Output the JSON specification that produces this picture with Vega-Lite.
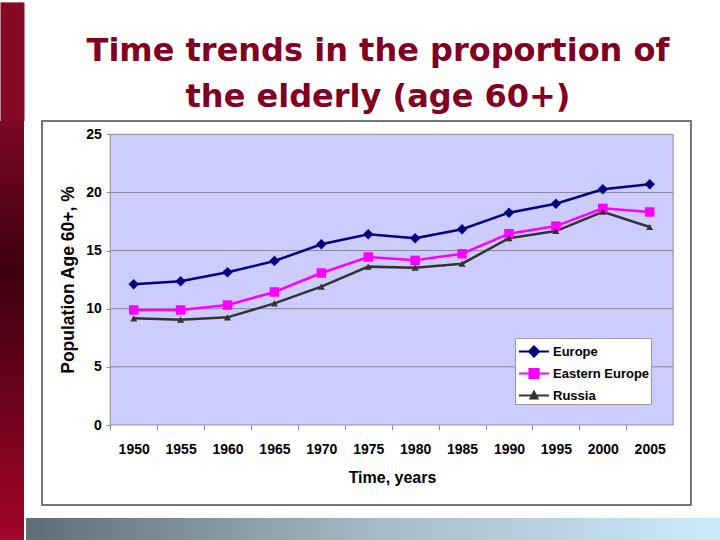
{
  "$schema": "https://vega.github.io/schema/vega-lite/v6.json",
  "padding": 0,
  "background": "white",
  "config": {"view": {"stroke": null}, "font": "Liberation Sans"},
  "datasets": {
    "pop": [
      {"year": 1950, "series": "Europe", "value": 12.1},
      {"year": 1955, "series": "Europe", "value": 12.36},
      {"year": 1960, "series": "Europe", "value": 13.13},
      {"year": 1965, "series": "Europe", "value": 14.1},
      {"year": 1970, "series": "Europe", "value": 15.54},
      {"year": 1975, "series": "Europe", "value": 16.4},
      {"year": 1980, "series": "Europe", "value": 16.06},
      {"year": 1985, "series": "Europe", "value": 16.83},
      {"year": 1990, "series": "Europe", "value": 18.26},
      {"year": 1995, "series": "Europe", "value": 19.03},
      {"year": 2000, "series": "Europe", "value": 20.27},
      {"year": 2005, "series": "Europe", "value": 20.7},
      {"year": 1950, "series": "Eastern Europe", "value": 9.89},
      {"year": 1955, "series": "Eastern Europe", "value": 9.89},
      {"year": 1960, "series": "Eastern Europe", "value": 10.32},
      {"year": 1965, "series": "Eastern Europe", "value": 11.44},
      {"year": 1970, "series": "Eastern Europe", "value": 13.07},
      {"year": 1975, "series": "Eastern Europe", "value": 14.45},
      {"year": 1980, "series": "Eastern Europe", "value": 14.16},
      {"year": 1985, "series": "Eastern Europe", "value": 14.73},
      {"year": 1990, "series": "Eastern Europe", "value": 16.45},
      {"year": 1995, "series": "Eastern Europe", "value": 17.11},
      {"year": 2000, "series": "Eastern Europe", "value": 18.63},
      {"year": 2005, "series": "Eastern Europe", "value": 18.32},
      {"year": 1950, "series": "Russia", "value": 9.17},
      {"year": 1955, "series": "Russia", "value": 9.06},
      {"year": 1960, "series": "Russia", "value": 9.26},
      {"year": 1965, "series": "Russia", "value": 10.46},
      {"year": 1970, "series": "Russia", "value": 11.9},
      {"year": 1975, "series": "Russia", "value": 13.62},
      {"year": 1980, "series": "Russia", "value": 13.53},
      {"year": 1985, "series": "Russia", "value": 13.87},
      {"year": 1990, "series": "Russia", "value": 16.06},
      {"year": 1995, "series": "Russia", "value": 16.68},
      {"year": 2000, "series": "Russia", "value": 18.34},
      {"year": 2005, "series": "Russia", "value": 17.03}
    ]
  },
  "spacing": 0,
  "hconcat": [
    {
      "width": 24,
      "height": 420,
      "data": {"values": [{}]},
      "layer": [
        {
          "mark": {
            "type": "rect",
            "fill": {
              "gradient": "linear", "x1": 0, "y1": 0, "x2": 0, "y2": 1,
              "stops": [
                {"offset": 0, "color": "#7c0824"},
                {"offset": 0.357, "color": "#3c0010"},
                {"offset": 1, "color": "#a30628"}
              ]
            }
          },
          "encoding": {}
        },
        {
          "mark": {"type": "point", "opacity": 0},
          "encoding": {
            "x": {
              "datum": 12,
              "type": "quantitative",
              "scale": {"domain": [0, 24], "nice": false, "zero": false},
              "axis": {
                "orient": "top",
                "values": [1.5, 3.41, 5.32, 7.23, 9.14, 11.05, 12.95, 14.86, 16.77, 18.68, 20.59, 22.5],
                "translate": 0,
                "tickSize": 118.5,
                "tickWidth": 3,
                "tickColor": "#860926",
                "tickCap": "butt",
                "labels": false,
                "domain": false,
                "grid": false,
                "title": null
              }
            }
          }
        }
      ]
    },
    {
      "spacing": 12,
      "vconcat": [
        {
          "width": 649,
          "height": 384,
          "view": {"fill": "white", "stroke": "#4a4a4a", "strokeWidth": 1.5},
          "title": {
            "text": " ",
            "fontSize": 8,
            "subtitle": ["Time trends in the proportion of", "the elderly (age 60+)"],
            "subtitleFont": "DejaVu Sans",
            "subtitleFontSize": 32,
            "subtitleFontWeight": "bold",
            "subtitleColor": "#7f0022",
            "subtitleLineHeight": 46,
            "subtitlePadding": 26.5,
            "anchor": "middle",
            "frame": "group",
            "offset": 8.5,
            "dx": 11.5
          },
          "data": {"name": "pop"},
          "layer": [
            {
              "data": {"values": [{}]},
              "mark": {"type": "rect", "fill": "#ccccff", "stroke": "#8c8c8c", "strokeWidth": 1},
              "encoding": {
                "x": {"datum": 1947.5, "type": "quantitative"},
                "x2": {"datum": 2007.5},
                "y": {"datum": 0, "type": "quantitative"},
                "y2": {"datum": 25}
              }
            },
            {
              "data": {"values": [{}]},
              "mark": {"type": "rule", "color": "#8a8a9c", "strokeWidth": 1},
              "encoding": {"x": {"datum": 1947.5, "type": "quantitative"}, "x2": {"datum": 2007.5}, "y": {"datum": 5, "type": "quantitative"}}
            },
            {
              "data": {"values": [{}]},
              "mark": {"type": "rule", "color": "#8a8a9c", "strokeWidth": 1},
              "encoding": {"x": {"datum": 1947.5, "type": "quantitative"}, "x2": {"datum": 2007.5}, "y": {"datum": 10, "type": "quantitative"}}
            },
            {
              "data": {"values": [{}]},
              "mark": {"type": "rule", "color": "#8a8a9c", "strokeWidth": 1},
              "encoding": {"x": {"datum": 1947.5, "type": "quantitative"}, "x2": {"datum": 2007.5}, "y": {"datum": 15, "type": "quantitative"}}
            },
            {
              "data": {"values": [{}]},
              "mark": {"type": "rule", "color": "#8a8a9c", "strokeWidth": 1},
              "encoding": {"x": {"datum": 1947.5, "type": "quantitative"}, "x2": {"datum": 2007.5}, "y": {"datum": 20, "type": "quantitative"}}
            },
            {
              "mark": {"type": "line", "strokeWidth": 2.5},
              "encoding": {
                "x": {
                  "field": "year",
                  "type": "quantitative",
                  "scale": {"domain": [1940.226, 2009.402], "nice": false, "zero": false},
                  "axis": {
                    "values": [1950, 1955, 1960, 1965, 1970, 1975, 1980, 1985, 1990, 1995, 2000, 2005],
                    "format": "d",
                    "title": "Time, years",
                    "offset": -80,
                    "domain": false,
                    "grid": false,
                    "ticks": true,
                    "tickSize": 5,
                    "tickColor": "#8c8c8c",
                    "tickOffset": -23.45,
                    "labelOffset": 23.45,
                    "labelPadding": 12,
                    "labelFont": "Liberation Sans",
                    "labelFontWeight": "bold",
                    "labelFontSize": 14,
                    "labelColor": "#000000",
                    "labelFlush": false,
                    "labelOverlap": false,
                    "titleFont": "Liberation Sans",
                    "titleFontSize": 16,
                    "titleFontWeight": "bold",
                    "titleColor": "#000000",
                    "titleX": 350,
                    "titleY": 57,
                    "titleAlign": "center",
                    "titleBaseline": "alphabetic",
                    "zindex": 1
                  }
                },
                "y": {
                  "field": "value",
                  "type": "quantitative",
                  "scale": {"domain": [-6.88, 26.144], "nice": false, "zero": false},
                  "axis": {
                    "values": [0, 5, 10, 15, 20, 25],
                    "title": "Population Age 60+, %",
                    "offset": -68.25,
                    "domain": false,
                    "grid": false,
                    "tickSize": 4,
                    "tickColor": "#8c8c8c",
                    "labelPadding": 5,
                    "labelFont": "Liberation Sans",
                    "labelFontWeight": "bold",
                    "labelFontSize": 14,
                    "labelColor": "#000000",
                    "labelFlush": false,
                    "titleFont": "Liberation Sans",
                    "titleFontSize": 17.5,
                    "titleFontWeight": "bold",
                    "titleColor": "#000000",
                    "titleX": -37,
                    "titleY": 158.5,
                    "titleAngle": -90,
                    "titleAlign": "center",
                    "titleBaseline": "alphabetic",
                    "zindex": 1
                  }
                },
                "color": {
                  "field": "series",
                  "type": "nominal",
                  "scale": {"domain": ["Europe", "Eastern Europe", "Russia"], "range": ["#000080", "#ff00ff", "#333333"]},
                  "legend": {
                    "orient": "none",
                    "legendX": 515,
                    "legendY": 217,
                    "title": null,
                    "padding": 1,
                    "fillColor": "white",
                    "strokeColor": "#999999",
                    "symbolSize": 529,
                    "symbolStrokeWidth": 2,
                    "labelOffset": 12,
                    "labelFont": "Liberation Sans",
                    "labelFontWeight": "bold",
                    "labelFontSize": 13,
                    "labelColor": "#000000",
                    "labelLimit": 200,
                    "rowPadding": 0,
                    "encode": {
                      "symbols": {
                        "update": {
                          "shape": {"signal": "datum.value === 'Europe' ? 'M-0.83,0H1.78M0.478,-0.435L0.913,0L0.478,0.435L0.043,0Z' : datum.value === 'Eastern Europe' ? 'M-0.83,0H1.78M0.078,-0.4H0.878V0.4H0.078Z' : 'M-0.83,0H1.78M0.478,-0.33L0.791,0.25H0.165Z'"},
                          "fill": {"signal": "datum.value === 'Europe' ? '#000080' : datum.value === 'Eastern Europe' ? '#ff00ff' : '#333333'"},
                          "stroke": {"signal": "datum.value === 'Europe' ? '#000080' : datum.value === 'Eastern Europe' ? '#ff00ff' : '#333333'"},
                          "opacity": {"value": 1}
                        }
                      }
                    }
                  }
                }
              }
            },
            {
              "transform": [{"filter": "datum.series === 'Europe'"}],
              "mark": {"type": "point", "shape": "diamond", "size": 110, "filled": true, "color": "#000080", "opacity": 1},
              "encoding": {"x": {"field": "year", "type": "quantitative"}, "y": {"field": "value", "type": "quantitative"}}
            },
            {
              "transform": [{"filter": "datum.series === 'Eastern Europe'"}],
              "mark": {"type": "point", "shape": "square", "size": 90, "filled": true, "color": "#ff00ff", "opacity": 1},
              "encoding": {"x": {"field": "year", "type": "quantitative"}, "y": {"field": "value", "type": "quantitative"}}
            },
            {
              "transform": [{"filter": "datum.series === 'Russia'"}],
              "mark": {"type": "point", "shape": "triangle-up", "size": 50, "filled": true, "color": "#333333", "opacity": 1},
              "encoding": {"x": {"field": "year", "type": "quantitative"}, "y": {"field": "value", "type": "quantitative"}}
            }
          ]
        },
        {
          "width": 679,
          "height": 23,
          "data": {"values": [{}]},
          "layer": [
            {
              "mark": {
                "type": "rect",
                "fill": {
                  "gradient": "linear", "x1": 0, "y1": 0, "x2": 1, "y2": 0,
                  "stops": [
                    {"offset": 0, "color": "#627179"},
                    {"offset": 0.5, "color": "#a6bbc8"},
                    {"offset": 1, "color": "#cdeafc"}
                  ]
                }
              },
              "encoding": {}
            },
            {
              "mark": {"type": "point", "opacity": 0},
              "encoding": {
                "y": {
                  "datum": 11.5,
                  "type": "quantitative",
                  "scale": {"domain": [0, 23], "nice": false, "zero": false},
                  "axis": {
                    "orient": "left",
                    "values": [1, 2, 3, 4, 5, 6, 7, 8, 9, 10, 11, 12, 13, 14, 15, 16, 17, 18, 19, 20, 21, 22],
                    "translate": 0,
                    "tickSize": 16,
                    "tickWidth": 2,
                    "tickColor": "#5f6e77",
                    "tickCap": "butt",
                    "labels": false,
                    "domain": false,
                    "grid": false,
                    "title": null
                  }
                }
              }
            }
          ]
        }
      ]
    }
  ]
}
